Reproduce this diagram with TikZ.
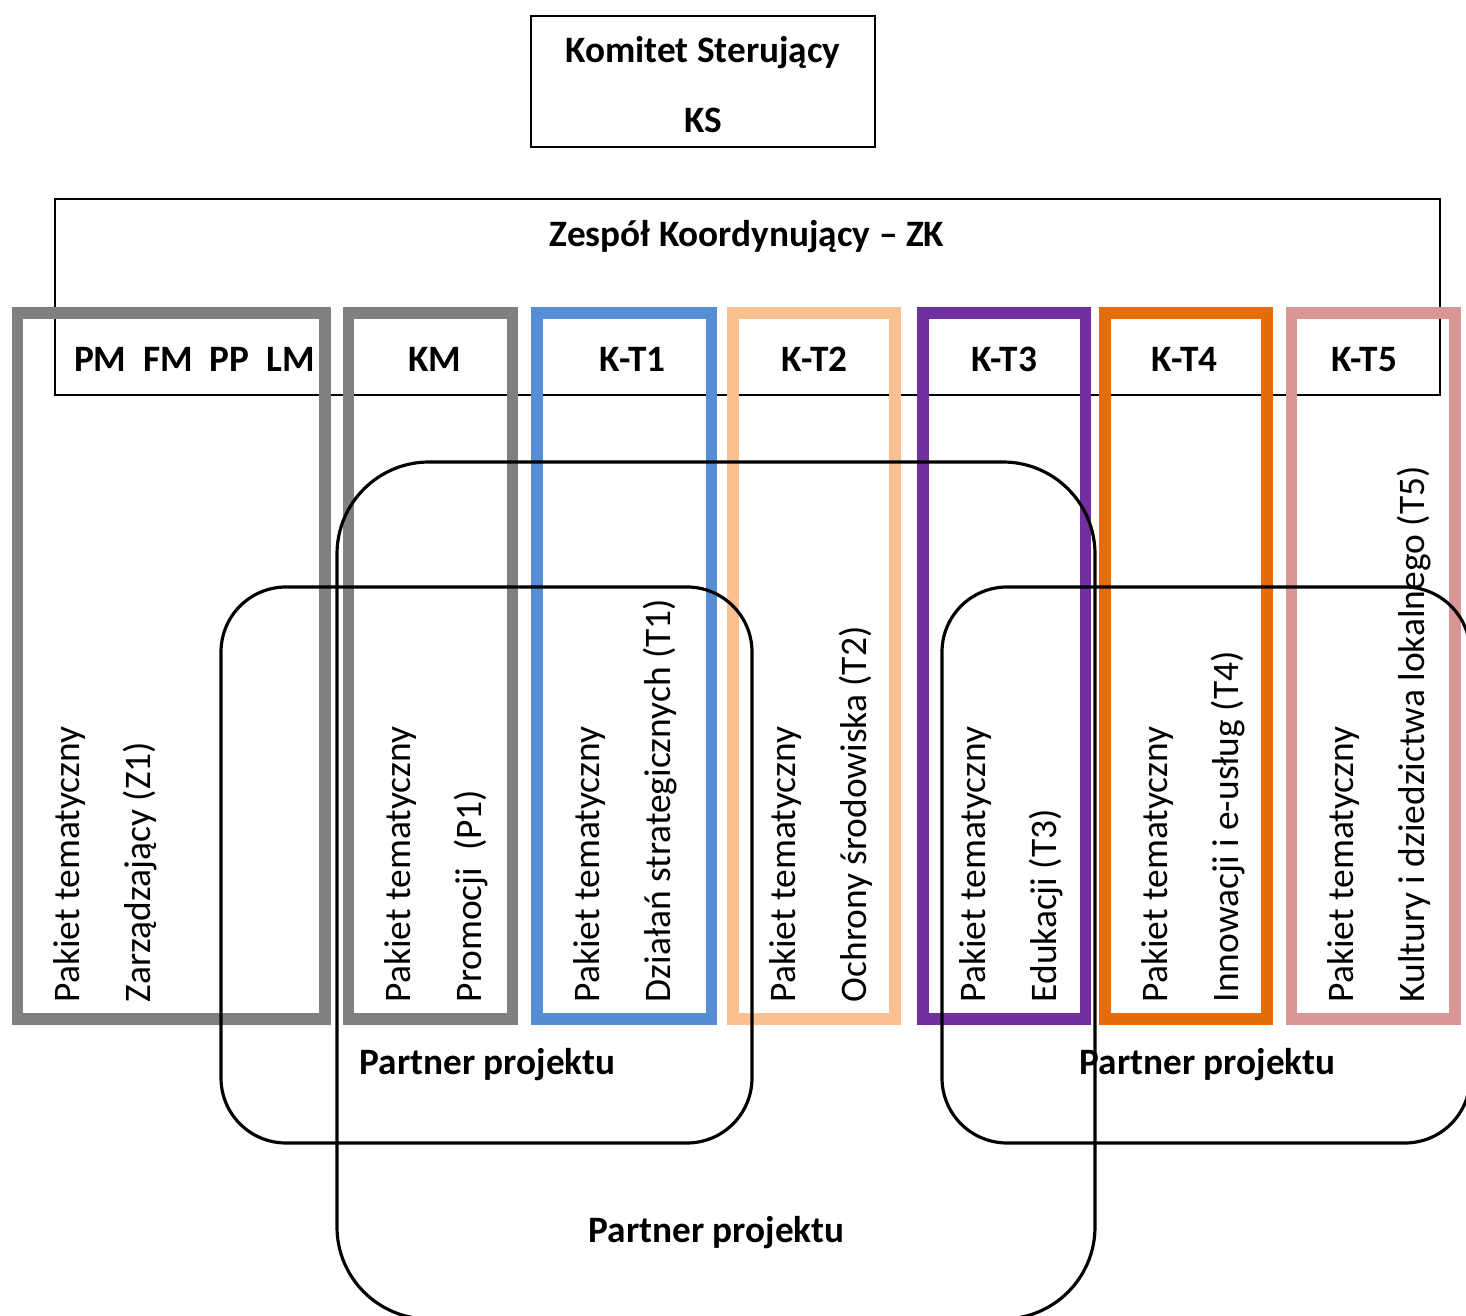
\documentclass[tikz,border=0pt]{standalone}
\usepackage{fontspec}
\setmainfont{Carlito}
\usepackage{tikz}
\definecolor{cGray}{RGB}{128,128,128}
\definecolor{cBlue}{RGB}{85,142,213}
\definecolor{cPeach}{RGB}{250,192,144}
\definecolor{cPurple}{RGB}{112,48,160}
\definecolor{cOrange}{RGB}{228,108,10}
\definecolor{cPink}{RGB}{217,150,148}
\tikzset{
  box/.style={draw,line width=0.6pt},
  pk/.style={draw=#1,line width=3.3pt},
  pr/.style={draw,line width=0.9pt},
  hd/.style={anchor=base,inner sep=0pt,font=\fontsize{10.6pt}{12pt}\selectfont\bfseries},
  pp/.style={anchor=base west,inner sep=0pt,font=\fontsize{10.6pt}{12pt}\selectfont\bfseries},
  rt/.style={rotate=90,anchor=base west,inner sep=0pt,font=\fontsize{10.65pt}{12pt}\selectfont},
}
\begin{document}
\begin{tikzpicture}[x=0.01cm,y=-0.01cm]
\useasboundingbox (0,0) rectangle (1466,1316);
\clip (0,0) rectangle (1466,1316);
% boxes
\draw[box] (531,16) rectangle (875,147); \draw[box] (55,199) rectangle (1440,395);
% frames of the packages
\draw[pk=cGray] (17.5,313) rectangle (325,1019); \draw[pk=cGray] (348.5,313) rectangle (512.5,1019);
\draw[pk=cBlue] (537,313) rectangle (711.5,1019); \draw[pk=cPeach] (733,313) rectangle (895,1019);
\draw[pk=cPurple] (923,313) rectangle (1085.5,1019); \draw[pk=cOrange] (1105,313) rectangle (1267,1019);
\draw[pk=cPink] (1291.5,313) rectangle (1455,1019);
% partners
\draw[pr,rounded corners=9.2mm] (337,462) rectangle (1095,1319);
\draw[pr,rounded corners=6.5mm] (221,587) rectangle (752,1143);
\draw[pr,rounded corners=6.5mm] (942,587) rectangle (1470,1143);
% texts
\node[hd] (KS1) at (703,63){Komitet Sterujący}; \node[hd] (KS2) at (703,133){KS};
\node[hd] (ZK) at (747,247){Zespół Koordynujący -- ZK};
\node[hd] (PM) at (194.5,372){PM\ \ FM\ \ PP\ \ LM}; \node[hd] (KM) at (435,372){KM};
\node[hd] (KT1) at (632.5,372){K-T1}; \node[hd] (KT2) at (814.5,372){K-T2};
\node[hd] (KT3) at (1004,372){K-T3}; \node[hd] (KT4) at (1184.5,372){K-T4};
\node[hd] (KT5) at (1364,372){K-T5};
\node[rt] (Z1a) at (79.5,1003){Pakiet tematyczny}; \node[rt] (Z1b) at (150.5,1003){Zarządzający (Z1)};
\node[rt] (P1a) at (410.5,1003){Pakiet tematyczny}; \node[rt] (P1b) at (481.5,1003){Promocji\ \ (P1)};
\node[rt] (T1a) at (599,1003){Pakiet tematyczny}; \node[rt] (T1b) at (670,1003){Działań strategicznych (T1)};
\node[rt] (T2a) at (795,1003){Pakiet tematyczny}; \node[rt] (T2b) at (866,1003){Ochrony środowiska (T2)};
\node[rt] (T3a) at (985,1003){Pakiet tematyczny}; \node[rt] (T3b) at (1056,1003){Edukacji (T3)};
\node[rt] (T4a) at (1167,1003){Pakiet tematyczny}; \node[rt] (T4b) at (1238,1003){Innowacji i e-usług (T4)};
\node[rt] (T5a) at (1353.5,1003){Pakiet tematyczny}; \node[rt] (T5b) at (1424.5,1003){Kultury i dziedzictwa lokalnego (T5)};
\node[pp] (PPL) at (359,1075){Partner projektu}; \node[pp] (PPR) at (1079,1075){Partner projektu};
\node[pp] (PPB) at (588,1242){Partner projektu};
\end{tikzpicture}
\end{document}
